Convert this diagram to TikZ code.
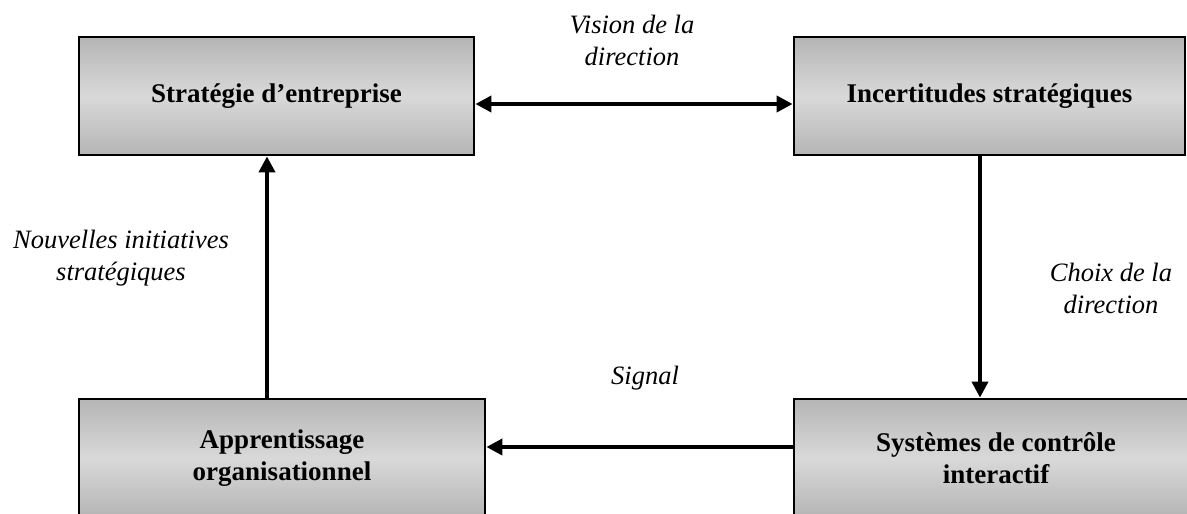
\documentclass[tikz,border=0pt]{standalone}
\usepackage{fontspec}
\setmainfont{Liberation Serif}
\usetikzlibrary{arrows.meta}
\begin{document}
\begin{tikzpicture}[x=1pt,y=-1pt,
  box/.style={draw=black, line width=2.8pt, inner sep=0pt,
    top color=black!29, bottom color=black!29, middle color=black!15,
    font=\fontsize{27}{32}\selectfont\bfseries, align=center, minimum height=118pt},
  lbl/.style={font=\fontsize{26.5}{32}\selectfont\itshape, align=center, inner sep=0pt},
  conn/.style={line width=3.8pt, -{Triangle[length=16pt,width=16pt]}},
  conn2/.style={line width=3.8pt, {Triangle[length=16pt,width=16pt]}-{Triangle[length=16pt,width=16pt]}}]
\useasboundingbox (0,0) rectangle (1187,514);
\fill[white] (0,0) rectangle (1187,514);
\clip (0,0) rectangle (1187,514);
\node[box, minimum width=395pt] (b1) at (276.5,96) {Stratégie d’entreprise};
\node[box, minimum width=391pt] (b2) at (989.5,96) {Incertitudes stratégiques};
\node[box, minimum width=406pt] (b3) at (282,458) {Apprentissage\\organisationnel};
\node[box, minimum width=404pt] (b4) at (996,458) {Systèmes de contrôle\\interactif};
\node[lbl] (l1) at (632,40) {Vision de la\\direction};
\node[lbl] (l2) at (121,258) {Nouvelles initiatives\\stratégiques};
\node[lbl] (l3) at (1111,288) {Choix de la\\direction};
\node[lbl] (l4) at (645,378) {Signal};
\draw[conn2] ([yshift=-8pt]b1.east) -- ([yshift=-8pt]b2.west);
\draw[conn] ([xshift=-9.5pt]b2.south) -- ([xshift=-9.5pt]b2.south |- b4.north);
\draw[conn] ([yshift=11pt]b4.west) -- ([yshift=11pt]b4.west -| b3.east);
\draw[conn] ([xshift=-15pt]b3.north) -- ([xshift=-15pt]b3.north |- b1.south);
\end{tikzpicture}
\end{document}
